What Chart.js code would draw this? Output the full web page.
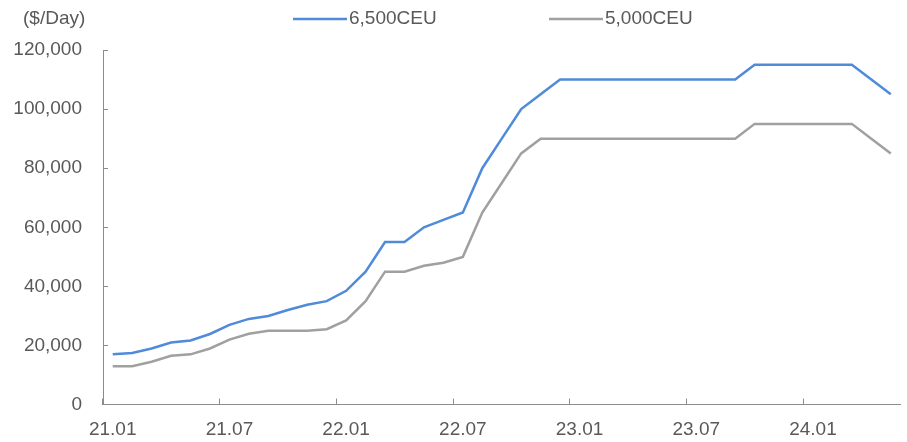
<!DOCTYPE html>
<html>
<head>
<meta charset="utf-8">
<script src="https://cdn.jsdelivr.net/npm/chart.js@4/dist/chart.umd.min.js"></script>
<style>
  body { margin: 0; background: #fff; }
</style>
</head>
<body>
<canvas id="ceu" width="907" height="442"></canvas>
<script>
    // months 21.01 .. 24.05
    const months = ["21.01", "21.02", "21.03", "21.04", "21.05", "21.06", "21.07", "21.08", "21.09", "21.10", "21.11", "21.12",
        "22.01", "22.02", "22.03", "22.04", "22.05", "22.06", "22.07", "22.08", "22.09", "22.10", "22.11", "22.12",
        "23.01", "23.02", "23.03", "23.04", "23.05", "23.06", "23.07", "23.08", "23.09", "23.10", "23.11", "23.12",
        "24.01", "24.02", "24.03", "24.04", "24.05"];

    const ceu6500 = [17000, 17500, 19000, 21000, 21700, 23900, 27000, 29000, 30000, 32000, 33800, 35000,
        38500, 45000, 55000, 55000, 60000, 62500, 65000, 80000, 90000, 100000, 105000, 110000,
        110000, 110000, 110000, 110000, 110000, 110000, 110000, 110000, 110000, 115000, 115000, 115000,
        115000, 115000, 115000, 110000, 105000];

    const ceu5000 = [13000, 13000, 14500, 16500, 17000, 19000, 22000, 24000, 25000, 25000, 25000, 25500,
        28500, 35000, 45000, 45000, 47000, 48000, 50000, 65000, 75000, 85000, 90000, 90000,
        90000, 90000, 90000, 90000, 90000, 90000, 90000, 90000, 90000, 95000, 95000, 95000,
        95000, 95000, 95000, 90000, 85000];

    const seriesNames = ["6,500CEU", "5,000CEU"];
    const unitLabel = "($/Day)";

    const textColor = "#595959";
    const axisColor = "#8c8c8c";
    const font = { family: "'Liberation Sans', Arial, sans-serif", size: 19 };

    // excel style legend + unit label on top
    const topLegend = {
        id: "topLegend",
        afterDraw(chart) {
            const ctx = chart.ctx;
            const starts = [293, 549];
            ctx.save();
            ctx.font = font.size + "px " + font.family;
            ctx.textBaseline = "middle";
            ctx.fillStyle = textColor;
            ctx.fillText(unitLabel, 23, 19);
            chart.data.datasets.forEach((ds, i) => {
                const x = starts[i];
                ctx.strokeStyle = ds.borderColor;
                ctx.lineWidth = 2.5;
                ctx.beginPath();
                ctx.moveTo(x, 19);
                ctx.lineTo(x + 54, 19);
                ctx.stroke();
                ctx.fillStyle = textColor;
                ctx.fillText(ds.label, x + 56, 19);
            });
            ctx.restore();
        }
    };

    new Chart("ceu", {
        type: "line",
        data: {
            labels: months,
            datasets: [{
                label: seriesNames[0],
                data: ceu6500,
                borderColor: "#4f8bd9",
                borderWidth: 2.5,
                pointRadius: 0,
                tension: 0
            }, {
                label: seriesNames[1],
                data: ceu5000,
                borderColor: "#a0a0a0",
                borderWidth: 2.5,
                pointRadius: 0,
                tension: 0
            }]
        },
        options: {
            responsive: false,
            animation: false,
            devicePixelRatio: 1,
            layout: { padding: { top: 50, right: 6.5, left: 0, bottom: 0 } },
            plugins: {
                legend: { display: false },
                tooltip: { enabled: false }
            },
            scales: {
                x: {
                    offset: true,
                    afterFit: s => { s.height = 36; s.paddingLeft = 0; s.paddingRight = 0; },
                    border: { color: axisColor, width: 1 },
                    grid: {
                        offset: true,
                        drawOnChartArea: false,
                        tickLength: -6,
                        tickColor: c => (c.type === "tick" && c.index % 6 === 0) ? axisColor : "rgba(0,0,0,0)"
                    },
                    ticks: {
                        autoSkip: false,
                        maxRotation: 0,
                        padding: 20,
                        color: textColor,
                        font: font,
                        callback: function (v, i) {
                            return i % 6 === 0 ? months[i] : "";
                        }
                    }
                },
                y: {
                    min: 0,
                    max: 120000,
                    afterFit: s => { s.width = 103; },
                    border: { color: axisColor, width: 1 },
                    grid: {
                        drawOnChartArea: false,
                        tickLength: -5,
                        tickColor: axisColor
                    },
                    ticks: {
                        stepSize: 20000,
                        padding: 26,
                        color: textColor,
                        font: font,
                        callback: v => v.toLocaleString("en-US")
                    }
                }
            }
        },
        plugins: [topLegend]
    });
</script>
</body>
</html>
